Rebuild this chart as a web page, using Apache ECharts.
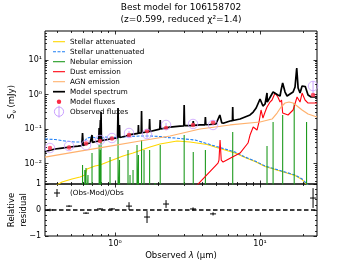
<!DOCTYPE html>
<html><head><meta charset="utf-8">
<script src="https://cdn.jsdelivr.net/npm/echarts@6/dist/echarts.min.js"></script>
<style>html,body{margin:0;padding:0;background:#fff}#c{width:353px;height:265px}</style>
</head><body><div id="c"></div>
<script>
// ---------- axis ranges ----------
const XMIN = 0.329, XMAX = 24.7, YMIN = 0.00255, YMAX = 69.3;

// ---------- Model spectrum (black) ----------
const specLam = [0.329,0.340,0.386,0.431,0.490,0.556,0.590,0.597,0.604,0.631,0.673,0.688,0.694,0.700,0.740,0.772,0.777,0.782,0.788,0.793,0.797,0.801,0.806,0.827,0.924,1.040,1.049,1.058,1.068,1.074,1.080,1.117,1.191,1.269,1.443,1.450,1.457,1.516,1.524,1.532,1.720,1.732,1.744,2.035,2.050,2.065,2.395,2.807,2.980,2.998,3.016,3.290,3.440,3.463,3.486,3.856,4.170,4.199,4.230,4.520,4.970,5.130,5.280,5.450,5.640,6.210,6.450,6.479,6.510,6.720,7.280,7.880,8.530,8.970,9.400,10.00,10.47,10.83,11.12,11.17,11.22,11.53,12.30,12.69,13.27,13.74,13.97,14.32,14.87,15.36,16.10,16.90,17.43,17.90,18.30,18.87,19.49,20.00,20.50,20.78,21.43,22.50,24.70];
const specFlux = [0.0215,0.0230,0.0263,0.0281,0.0301,0.0321,0.0332,0.0766,0.0335,0.0367,0.0393,0.0405,0.067,0.0410,0.0434,0.0445,0.107,0.0447,0.045,0.182,0.046,0.311,0.046,0.048,0.0513,0.055,0.406,0.056,0.056,0.131,0.057,0.0586,0.0627,0.069,0.0750,0.131,0.0755,0.077,0.333,0.078,0.084,0.195,0.085,0.099,0.182,0.100,0.114,0.122,0.124,0.496,0.125,0.126,0.127,0.171,0.128,0.131,0.132,0.223,0.133,0.135,0.140,0.150,0.255,0.150,0.149,0.171,0.176,0.434,0.177,0.182,0.195,0.223,0.255,0.311,0.406,0.741,0.464,0.531,0.55,1.105,0.60,0.648,1.181,1.263,0.967,0.905,1.35,2.15,1.181,0.905,1.034,1.181,1.649,5.86,1.543,1.105,1.763,1.543,1.70,1.763,0.967,0.847,0.847];

// ---------- Stellar attenuated (gold) ----------
const stAttLam = [0.386,0.431,0.505,0.574,0.621,0.641,0.728,0.788,0.924,1.136,1.331,1.743,2.043,2.677,3.290,4.311,4.893,5.735,6.72,7.88,9.24,10.83,12.69,14.87,17.43,19.49,21.10,22.12];
const stAttFlux = [0.00223,0.00291,0.00356,0.00406,0.00464,0.00693,0.00847,0.00905,0.01182,0.0165,0.0201,0.0301,0.0367,0.0449,0.0420,0.0355,0.0301,0.0246,0.0201,0.0149,0.0114,0.00818,0.00670,0.00548,0.00449,0.00344,0.00246,0.00209];

// ---------- Stellar unattenuated (blue dashed) ----------
const stUnLam = [0.329,0.386,0.452,0.530,0.611,0.641,0.694,0.751,0.788,0.853,0.953,1.083,1.269,1.487,1.743,2.043,2.284,2.593,3.039,3.562,4.175,4.893,5.735,6.72,7.88,9.24,10.83,12.69,14.87,17.43,19.49,21.10,22.12];
const stUnFlux = [0.0513,0.0496,0.0449,0.0420,0.0420,0.0548,0.0586,0.0548,0.0513,0.0586,0.0567,0.0586,0.0606,0.0627,0.0627,0.0606,0.0567,0.0548,0.0513,0.0480,0.0393,0.0321,0.0263,0.0215,0.0154,0.0118,0.00847,0.00693,0.00567,0.00464,0.00356,0.00255,0.00209];

// ---------- Nebular emission lines (green) ----------
const nebLam  = [0.597,0.619,0.631,0.651,0.694,0.777,0.793,0.801,0.924,1.049,1.074,1.229,1.269,1.331,1.418,1.450,1.524,1.585,1.732,1.887,2.050,2.998,3.463,4.199,6.479,11.17,12.30,14.32,17.20,20.93];
const nebPeak = [0.00905,0.00648,0.00741,0.00464,0.0201,0.0344,0.0246,0.048,0.0154,0.067,0.0126,0.0246,0.00464,0.00648,0.0344,0.0176,0.048,0.0246,0.0246,0.00272,0.0344,0.067,0.0215,0.0246,0.0818,0.0321,0.160,0.255,0.567,0.160];
const NEB_FLOOR = 1e-4;

// ---------- Dust emission (red) ----------
const dustLam = [3.62,5.13,5.21,5.30,5.40,5.56,7.28,8.26,8.53,8.97,9.53,9.84,10.16,10.47,10.83,11.17,11.72,12.10,12.69,13.27,13.74,14.07,14.32,15.60,16.90,18.00,18.87,19.49,20.43,21.43,22.84,24.70];
const dustFlux = [0.0022,0.0103,0.0126,0.048,0.0126,0.0110,0.0201,0.0393,0.067,0.114,0.0935,0.160,0.356,0.208,0.311,0.434,0.606,0.693,1.105,0.847,0.606,0.693,0.291,0.255,0.356,0.847,0.606,1.105,0.693,0.567,0.567,0.567];

// ---------- AGN emission (apricot) ----------
const agnLam = [0.329,0.574,0.924,1.487,2.395,3.856,6.21,10.0,12.1,13.1,13.97,14.87,15.85,16.9,18.0,19.49,21.43,24.7];
const agnFlux = [0.0154,0.0230,0.0321,0.0449,0.0627,0.100,0.131,0.160,0.195,0.291,0.434,0.567,0.606,0.567,0.464,0.356,0.272,0.223];

// ---------- Photometry ----------
const bandLam  = [0.356,0.482,0.631,0.788,0.953,1.249,1.662,2.248,3.451,4.742,23.2];
const obsFlux  = [0.0281,0.0321,0.0344,0.048,0.0548,0.0766,0.0716,0.131,0.140,0.131,1.763];
const obsErr   = [0.0014,0.0016,0.0017,0.0024,0.0027,0.0115,0.0165,0.0197,0.0084,0.0079,0.67];
const modFlux  = [0.0281,0.029,0.038,0.0449,0.053,0.067,0.0875,0.107,0.131,0.155,0.967];
const resVal   = [0.0,0.15,-0.12,0.04,0.04,0.15,-0.27,0.23,0.04,-0.15,0.46];
const resErr   = [0.05,0.03,0.03,0.03,0.03,0.15,0.23,0.15,0.06,0.06,0.38];

// ---------- tick labels ----------
const xMajorTicks = [1, 10];
const yMajorTicks = [0.01, 0.1, 1, 10];
const resTicks = [-1, 0, 1];

const FONT = '"DejaVu Sans"';
const SUP = {'-':'\u207B','0':'\u2070','1':'\u00B9','2':'\u00B2','3':'\u00B3'};
function powLabel(e){ return '10' + String(Math.round(e)).split('').map(c=>SUP[c]).join(''); }

const LX0 = Math.log10(XMIN), LX1 = Math.log10(XMAX), LY0 = Math.log10(YMIN), LY1 = Math.log10(YMAX);
function minorLog(lo, hi){ const o=[]; for(let e=Math.floor(lo); e<=Math.ceil(hi); e++) for(let m=2;m<=9;m++){const v=e+Math.log10(m); if(v>lo && v<hi) o.push(v);} return o; }
const xMaj = xMajorTicks.map(Math.log10), yMaj = yMajorTicks.map(Math.log10);
const xMin = minorLog(LX0, LX1), yMin = minorLog(LY0, LY1);
const TICK = {color:'#000', width:0.8};

function deco(kind, grid, pos, lo, hi, vals, len, label){
  return {type:'value', gridIndex:grid, position:pos, min:lo, max:hi,
    axisLine:{show:false, onZero:false}, splitLine:{show:false},
    axisTick:{show:true, inside:true, length:len, customValues:vals, lineStyle:TICK},
    axisLabel: label ? Object.assign({customValues:vals}, label) : {show:false}};
}
const hiddenLog = (grid, lo, hi) => ({type:'log', logBase:10, gridIndex:grid, min:lo, max:hi, show:false,
  axisLine:{show:false,onZero:false}, axisTick:{show:false}, axisLabel:{show:false}, splitLine:{show:false}});

const xLabel = {show:true, fontFamily:FONT, fontSize:8, color:'#000', margin:4, formatter:v=>powLabel(v)};
const yLabel = {show:true, fontFamily:FONT, fontSize:8, color:'#000', margin:3, formatter:v=>powLabel(v)};

const xAxes = [
  hiddenLog(0, XMIN, XMAX), hiddenLog(1, XMIN, XMAX),
  deco('x',0,'bottom',LX0,LX1,xMaj,3.5), deco('x',0,'bottom',LX0,LX1,xMin,2),
  deco('x',0,'top',LX0,LX1,xMaj,3.5), deco('x',0,'top',LX0,LX1,xMin,2),
  deco('x',1,'bottom',LX0,LX1,xMaj,3.5,xLabel), deco('x',1,'bottom',LX0,LX1,xMin,2),
  deco('x',1,'top',LX0,LX1,xMaj,3.5), deco('x',1,'top',LX0,LX1,xMin,2)
];
const resAxis = (pos, showLabel) => ({type:'value', gridIndex:1, position:pos, min:-1, max:1, interval:1,
  axisLine:{show:false,onZero:false}, splitLine:{show:false},
  axisTick:{show:true, inside:true, length:3.5, lineStyle:TICK},
  minorTick:{show:true, splitNumber:5, length:2, lineStyle:TICK},
  axisLabel: showLabel ? {show:true, fontFamily:FONT, fontSize:8, color:'#000', margin:4,
     formatter:v=> v<0 ? '\u2212' + Math.abs(v) : String(v)} : {show:false}});
const yAxes = [
  hiddenLog(0, YMIN, YMAX), resAxis('left', true), resAxis('right', false),
  deco('y',0,'left',LY0,LY1,yMaj,3.5,yLabel), deco('y',0,'left',LY0,LY1,yMin,2),
  deco('y',0,'right',LY0,LY1,yMaj,3.5), deco('y',0,'right',LY0,LY1,yMin,2)
];

const zip = (a,b) => a.map((v,i)=>[v,b[i]]);
const nebData = [];
nebLam.forEach((l,i)=>{ nebData.push([l,NEB_FLOOR],[l,nebPeak[i]],[l,NEB_FLOOR]); });

const lineS = (name, lam, flux, color, w, type) => ({name, type:'line', xAxisIndex:0, yAxisIndex:0,
  data: zip(lam, flux), symbol:'none', silent:true, clip:true,
  lineStyle:{color, width:w, type: type||'solid'}});

const series = [
  lineS('Stellar attenuated', stAttLam, stAttFlux, '#FFD700', 1.1),
  lineS('Stellar unattenuated', stUnLam, stUnFlux, '#1f7ff5', 1.1, [3,1.5]),
  {name:'Nebular emission', type:'line', xAxisIndex:0, yAxisIndex:0, data:nebData, symbol:'none', silent:true, clip:true, lineStyle:{color:'#1e9a1e', width:1.1}},
  lineS('Dust emission', dustLam, dustFlux, '#ff000d', 1.1),
  lineS('AGN emission', agnLam, agnFlux, '#ffb16d', 1.2),
  lineS('Model spectrum', specLam, specFlux, '#000000', 1.7),
  {name:'Model fluxes', type:'scatter', xAxisIndex:0, yAxisIndex:0, data:zip(bandLam, modFlux), symbol:'circle', symbolSize:4.5, itemStyle:{color:'#fb2943'}, silent:true, z:4},
  {name:'Observed error', type:'custom', xAxisIndex:0, yAxisIndex:0, z:4,
   data: bandLam.map((l,i)=>[l, obsFlux[i]-obsErr[i], obsFlux[i]+obsErr[i]]),
   encode:{x:0, y:[1,2]},
   renderItem:(p,api)=>{ const a=api.coord([api.value(0),api.value(1)]), b=api.coord([api.value(0),api.value(2)]);
     return {type:'line', shape:{x1:a[0],y1:a[1],x2:b[0],y2:b[1]}, style:{stroke:'#caa0ff', lineWidth:1}}; }},
  {name:'Observed fluxes', type:'scatter', xAxisIndex:0, yAxisIndex:0, data:zip(bandLam, obsFlux), symbol:'circle', symbolSize:9.5,
   itemStyle:{color:'rgba(0,0,0,0)', borderColor:'#caa0ff', borderWidth:1}, silent:true, z:4},
  // residual panel
  {name:'zero', type:'line', xAxisIndex:1, yAxisIndex:1, data:[[XMIN,0],[XMAX,0]], symbol:'none', silent:true,
   lineStyle:{color:'#000', width:1.5, type:[4.5,2.5]}},
  {name:'(Obs-Mod)/Obs', type:'custom', xAxisIndex:1, yAxisIndex:1, z:4,
   data: bandLam.map((l,i)=>[l, resVal[i], resErr[i]]), encode:{x:0,y:1},
   renderItem:(p,api)=>{ const x=api.value(0), v=api.value(1), e=api.value(2);
     const c=api.coord([x,v]), lo=api.coord([x,v-e]), hi=api.coord([x,v+e]);
     return {type:'group', children:[
       {type:'line', shape:{x1:c[0],y1:lo[1],x2:c[0],y2:hi[1]}, style:{stroke:'#000', lineWidth:1}},
       {type:'line', shape:{x1:c[0]-3,y1:c[1],x2:c[0]+3,y2:c[1]}, style:{stroke:'#000', lineWidth:1}}]}; }}
];

// ---------- legend & texts (graphic) ----------
const legendItems = [
  ['Stellar attenuated','line','#FFD700',null],
  ['Stellar unattenuated','line','#1f7ff5',[3,1.5]],
  ['Nebular emission','line','#1e9a1e',null],
  ['Dust emission','line','#ff000d',null],
  ['AGN emission','line','#ffb16d',null],
  ['Model spectrum','line','#000',null],
  ['Model fluxes','dot','#fb2943',null],
  ['Observed fluxes','obs','#caa0ff',null]
];
const g = [];
const txt = (x,y,text,size,align,extra) => Object.assign({type:'text', x, y, silent:true,
  style:Object.assign({text, fill:'#000', fontFamily:FONT, fontSize:size, textAlign:align, align:align,
    textVerticalAlign:'middle', verticalAlign:'middle'}, extra||{})});
legendItems.forEach((it,i)=>{
  const y = 41.7 + i*10;
  if (it[1]==='line') g.push({type:'line', silent:true, shape:{x1:53,y1:y,x2:65,y2:y},
     style:{stroke:it[2], lineWidth: it[2]==='#000'?1.7:1.1, lineDash: it[3]||null}});
  else if (it[1]==='dot') g.push({type:'circle', silent:true, shape:{cx:59,cy:y,r:2.2}, style:{fill:it[2]}});
  else { g.push({type:'circle', silent:true, shape:{cx:59,cy:y,r:4.6}, style:{fill:'none', stroke:it[2], lineWidth:1}});
         g.push({type:'line', silent:true, shape:{x1:59,y1:y-6,x2:59,y2:y+6}, style:{stroke:it[2], lineWidth:1}}); }
  g.push(txt(70, y, it[0], 7.2, 'left'));
});
// residual legend
g.push({type:'line', silent:true, shape:{x1:54,y1:193,x2:60,y2:193}, style:{stroke:'#000', lineWidth:1}});
g.push({type:'line', silent:true, shape:{x1:57,y1:189,x2:57,y2:197}, style:{stroke:'#000', lineWidth:1}});
g.push(txt(70, 193, '(Obs-Mod)/Obs', 7.2, 'left'));
// titles
g.push(txt(181, 8, 'Best model for 106158702', 9, 'center'));
g.push(txt(181, 19.5, '(z=0.599, reduced \u03C7\u00B2=1.4)', 9, 'center'));
// axis titles
g.push(txt(181, 256, '{a|Observed }{i|\u03BB}{a| (\u03BCm)}', 8.5, 'center',
  {rich:{a:{fontFamily:FONT, fontSize:8.5, fill:'#000'}, i:{fontFamily:FONT, fontSize:8.5, fontStyle:'italic', fill:'#000'}}}));
g.push(Object.assign(txt(0,0,'{a|S}{s|\u03BD}{a| (mJy)}', 8.5, 'center',
  {rich:{a:{fontFamily:FONT, fontSize:8.5, fill:'#000', lineHeight:12}, s:{fontFamily:FONT, fontSize:6, fill:'#000', lineHeight:6, padding:[5,0,0,0]}}}),
  {x:12, y:102, rotation:Math.PI/2}));
g.push(Object.assign(txt(0,0,'Relative', 8.5, 'center'), {x:12, y:210, rotation:Math.PI/2}));
g.push(Object.assign(txt(0,0,'residual', 8.5, 'center'), {x:24, y:210, rotation:Math.PI/2}));

const chart = echarts.init(document.getElementById('c'), null, {renderer:'canvas'});
chart.setOption({
  animation:false,
  backgroundColor:'#fff',
  grid:[
    {left:45, top:31, width:272, height:153, show:true, borderColor:'#000', borderWidth:1, backgroundColor:'transparent', containLabel:false, outerBoundsMode:'none'},
    {left:45, top:184, width:272, height:52, show:true, borderColor:'#000', borderWidth:1, backgroundColor:'transparent', containLabel:false, outerBoundsMode:'none'}
  ],
  xAxis: xAxes,
  yAxis: yAxes,
  series,
  graphic:{elements:g}
});
</script></body></html>
